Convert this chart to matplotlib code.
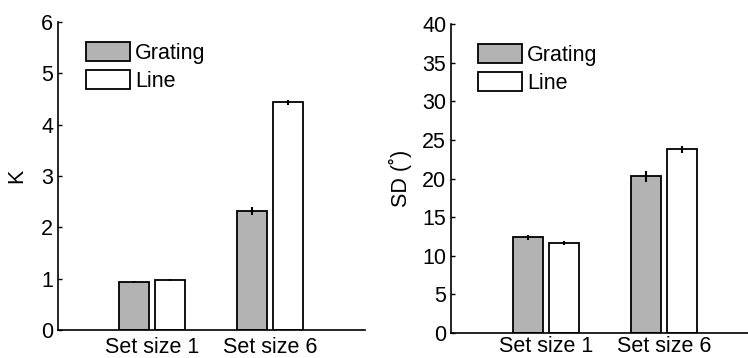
import numpy as np
import matplotlib.pyplot as plt

plt.rcParams['font.family'] = ['Liberation Sans', 'DejaVu Sans']

groups = ['Set size 1', 'Set size 6']
series = ['Grating', 'Line']

k_grating = [0.94, 2.32]
k_line = [0.97, 4.44]
k_grating_err = [0.02, 0.07]
k_line_err = [0.02, 0.05]

sd_grating = [12.4, 20.3]
sd_line = [11.65, 23.8]
sd_grating_err = [0.3, 0.7]
sd_line_err = [0.3, 0.45]

gray = '#b3b3b3'
fs = 15.5

fig = plt.figure(figsize=(7.48, 3.58), dpi=100)
ax1 = fig.add_axes([0.0775, 0.0782, 0.410, 0.860])
ax2 = fig.add_axes([0.603, 0.0698, 0.397, 0.863])

x = np.arange(1, len(groups) + 1)
off = 0.153
w = 0.254


def draw(ax, g, l, ge, le, ymax, step, ylabel, xlim, lpad, xpad):
    ax.bar(x - off, g, w, color=gray, edgecolor='black', linewidth=1.3, label=series[0])
    ax.bar(x + off, l, w, color='white', edgecolor='black', linewidth=1.3, label=series[1])
    ax.errorbar(x - off, g, yerr=ge, fmt='none', ecolor='black', elinewidth=1.5, capsize=0)
    ax.errorbar(x + off, l, yerr=le, fmt='none', ecolor='black', elinewidth=1.5, capsize=0)
    ax.set_xlim(*xlim)
    ax.set_ylim(0, ymax)
    ax.set_yticks(np.arange(0, ymax + step / 2, step))
    ax.set_xticks(x)
    ax.set_xticklabels(groups)
    ax.set_ylabel(ylabel, fontsize=fs, labelpad=lpad)
    ax.tick_params(axis='both', labelsize=fs, direction='in', length=3, width=1)
    ax.tick_params(axis='x', length=0, pad=xpad)
    for s in ['top', 'right']:
        ax.spines[s].set_visible(False)
    for s in ['left', 'bottom']:
        ax.spines[s].set_linewidth(1.2)
    leg = ax.legend(loc='upper left', bbox_to_anchor=(0.09, 0.935), frameon=False,
                    fontsize=fs, handlelength=2.05, handleheight=0.95,
                    handletextpad=0.25, labelspacing=0.3, borderpad=0, borderaxespad=0)
    for p in leg.get_patches():
        p.set_linewidth(1.3)


draw(ax1, k_grating, k_line, k_grating_err, k_line_err, 6, 1, 'K', (0.199, 2.801), 10, 5)
draw(ax2, sd_grating, sd_line, sd_grating_err, sd_line_err, 40, 5, 'SD (˚)', (0.195, 2.712), 7, 2)

fig.savefig('out.png', dpi=100)
